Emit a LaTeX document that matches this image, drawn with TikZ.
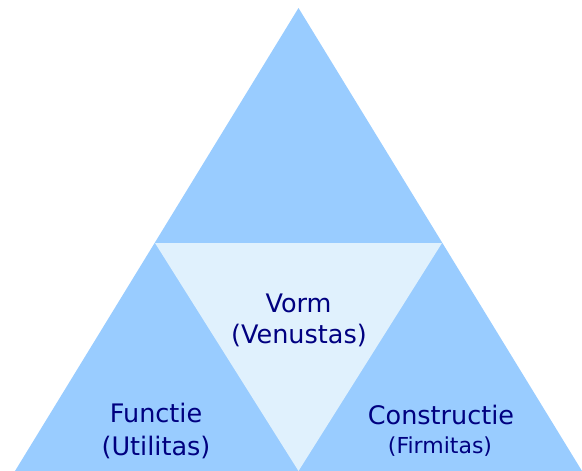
\documentclass[tikz,border=0pt]{standalone}
\usepackage{fontspec}
\setmainfont{DejaVu Sans}
\usepackage{xcolor}
\usetikzlibrary{positioning}

\definecolor{outerblue}{RGB}{153,204,255}
\definecolor{innerblue}{RGB}{224,241,253}
\definecolor{textnavy}{RGB}{0,0,128}

\begin{document}
\begin{tikzpicture}[
        x=1pt, y=-1pt,
        outer/.style={fill=outerblue, draw=none},
        inner/.style={fill=innerblue, draw=none},
        mainlabel/.style={text=textnavy, font=\fontsize{25.5}{28}\selectfont, anchor=base, inner sep=0pt},
        smalllabel/.style={text=textnavy, font=\fontsize{22}{24}\selectfont, anchor=base, inner sep=0pt}
    ]
        \useasboundingbox (0,0) rectangle (582,471);

        % Corners of the big triangle
        \coordinate (top) at (298.5,8);
        \coordinate (botleft) at (15,471);
        \coordinate (botright) at (582,471);

        % Corners of the middle triangle
        \coordinate (midleft) at (155,243);
        \coordinate (midright) at (442,243);
        \coordinate (midbottom) at (298.5,471);

        % Triangles
        \fill[outer] (top) -- (botleft) -- (botright) -- cycle;
        \fill[inner] (midleft) -- (midright) -- (midbottom) -- cycle;

        % Labels
        \node[mainlabel] (vorm) at (298.5,312) {Vorm};
        \node[mainlabel] (venustas) at (299,343) {(Venustas)};

        \node[mainlabel] (functie) at (156,422) {Functie};
        \node[mainlabel] (utilitas) at (156,455) {(Utilitas)};

        \node[mainlabel] (constructie) at (441,424) {Constructie};
        \node[smalllabel] (firmitas) at (440,453) {(Firmitas)};
    \end{tikzpicture}
\end{document}
